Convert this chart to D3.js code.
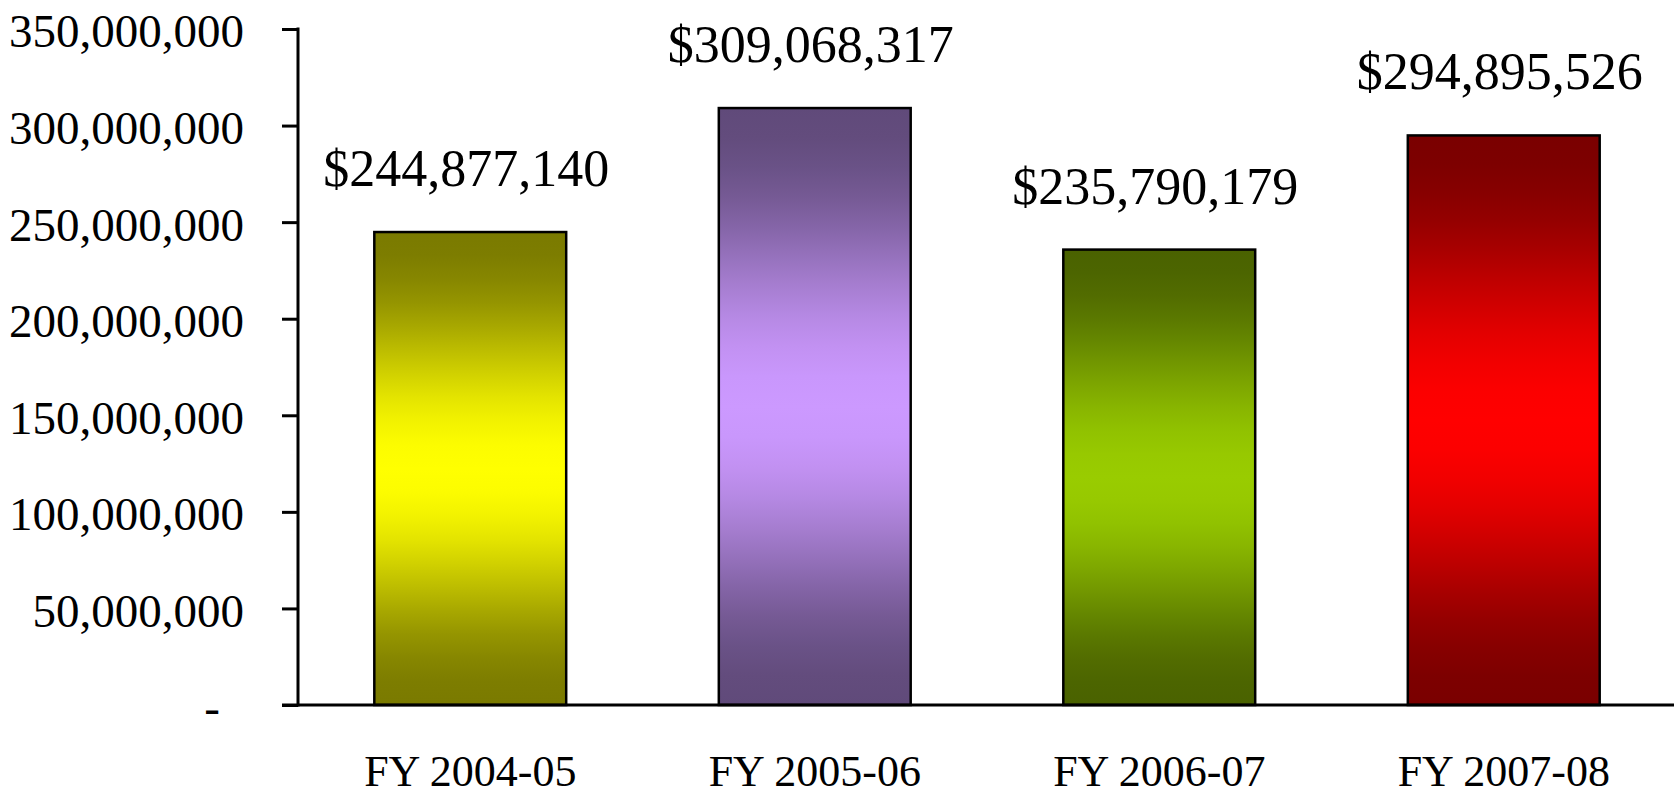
<!DOCTYPE html>
<html>
<head>
<meta charset="utf-8">
<script src="https://cdn.jsdelivr.net/npm/d3@7"></script>
<style>
  body { margin: 0; background: #fff; }
  text { font-family: "Liberation Serif", "Times New Roman", serif; fill: #000; }
</style>
</head>
<body>
<div id="chart"></div>
<script>
// data
var years = ["FY 2004-05", "FY 2005-06", "FY 2006-07", "FY 2007-08"];
var amounts = [244877140, 309068317, 235790179, 294895526];
var yTicks = [0, 50000000, 100000000, 150000000, 200000000, 250000000, 300000000, 350000000];

// bright middle colour and dark edge colour of each bar
var midColors = ["#ffff00", "#cc99ff", "#99cc00", "#ff0000"];
var edgeColors = ["#7a7a00", "#604a7a", "#4a6200", "#7a0000"];

var width = 1680,
    height = 792;

var plotLeft = 298, plotRight = 1676, plotTop = 29, plotBottom = 705;

var svg = d3.select("#chart")
    .append("svg")
    .attr("width", width)
    .attr("height", height);

var x = d3.scaleBand()
    .domain(years)
    .range([plotLeft, plotRight])
    .paddingInner(0.443)
    .paddingOuter(0.2215);

var y = d3.scaleLinear()
    .domain([0, 350000000])
    .range([plotBottom, plotTop]);

// one vertical gradient per bar: dark - bright - dark, eased like the excel fill
var defs = svg.append("defs");
var steps = d3.range(0, 1.0001, 0.05);
years.forEach(function(d, i) {
    var grad = defs.append("linearGradient")
        .attr("id", "grad" + i)
        .attr("x1", 0).attr("y1", 0)
        .attr("x2", 0).attr("y2", 1);
    var mix = d3.interpolateRgb(edgeColors[i], midColors[i]);
    steps.forEach(function(t) {
        var k = 1 - Math.abs(t - 0.5) * 2;
        grad.append("stop")
            .attr("offset", (t * 100) + "%")
            .attr("stop-color", mix(d3.easeSinInOut(k)));
    });
});

// bars
svg.append("g")
    .selectAll("rect")
    .data(amounts)
    .enter()
    .append("rect")
    .attr("x", function(d, i) { return x(years[i]); })
    .attr("y", function(d) { return y(d); })
    .attr("width", x.bandwidth())
    .attr("height", function(d) { return y(0) - y(d); })
    .attr("fill", function(d, i) { return "url(#grad" + i + ")"; })
    .attr("stroke", "#000")
    .attr("stroke-width", 2.5);

// value labels
svg.append("g")
    .selectAll("text")
    .data(amounts)
    .enter()
    .append("text")
    .attr("x", function(d, i) { return x(years[i]) + x.bandwidth() / 2 - 4; })
    .attr("y", function(d) { return y(d) - 46; })
    .attr("text-anchor", "middle")
    .style("font-size", "52px")
    .text(function(d) { return "$" + d3.format(",")(d); });

// y axis
var yAxis = d3.axisLeft(y)
    .tickValues(yTicks)
    .tickSize(16)
    .tickPadding(38)
    .tickFormat(function(d) { return d === 0 ? "-" : d3.format(",")(d); });

var gy = svg.append("g")
    .attr("transform", "translate(" + plotLeft + ",0)")
    .call(yAxis);

gy.select(".domain")
    .attr("d", "M0," + (plotTop - 1.5) + "V" + (plotBottom + 1.5))
    .attr("stroke", "#000")
    .attr("stroke-width", 3);
gy.selectAll(".tick line").attr("stroke", "#000").attr("stroke-width", 3);
gy.selectAll(".tick text")
    .attr("dy", "0.38em")
    .style("font-size", "47px")
    .style("font-family", "'Liberation Serif', 'Times New Roman', serif");
gy.selectAll(".tick text")
    .filter(function(d) { return d === 0; })
    .attr("dx", -24);

// x axis
var xAxis = d3.axisBottom(x)
    .tickSize(0)
    .tickPadding(0);

var gx = svg.append("g")
    .attr("transform", "translate(0," + plotBottom + ")")
    .call(xAxis);

gx.select(".domain")
    .attr("d", "M" + (plotLeft - 16) + ",0H" + (plotRight - 2))
    .attr("stroke", "#000")
    .attr("stroke-width", 3);
gx.selectAll(".tick text")
    .attr("y", 81)
    .attr("dy", 0)
    .style("font-size", "44px")
    .style("font-family", "'Liberation Serif', 'Times New Roman', serif");
</script>
</body>
</html>
